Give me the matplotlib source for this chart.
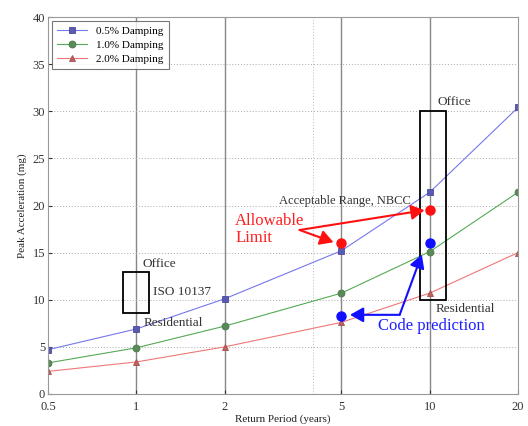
import matplotlib
matplotlib.use("Agg")
import matplotlib.pyplot as plt
from matplotlib.patches import Rectangle

periods = [0.5, 1, 2, 5, 10, 20]
damp_05 = [4.7, 6.9, 10.1, 15.2, 21.4, 30.4]
damp_10 = [3.3, 4.9, 7.2, 10.7, 15.1, 21.4]
damp_20 = [2.4, 3.4, 5.0, 7.6, 10.7, 15.0]
series_labels = ["0.5% Damping", "1.0% Damping", "2.0% Damping"]

allow_x = [5, 10]
allow_y = [16.0, 19.5]
code_x = [5, 10]
code_y = [8.3, 16.0]

xticks = [0.5, 1, 2, 5, 10, 20]
xtick_labels = ["0.5", "1", "2", "5", "10", "20"]
yticks = [0, 5, 10, 15, 20, 25, 30, 35, 40]

plt.rcParams['font.family'] = ['Liberation Serif', 'DejaVu Serif']

fig = plt.figure(figsize=(5.28, 4.26), dpi=100)
ax = fig.add_axes([48/528, 32/426, 470/528, 377/426])
ax.set_xscale('log')
ax.set_xlim(0.5, 20)
ax.set_ylim(0, 40)

# grid
for v in [1, 2, 5, 10]:
    ax.axvline(v, color='#888888', lw=1.0, zorder=0)
ax.axvline(4, color='#bbbbbb', lw=0.7, ls=(0, (1, 2)), zorder=0)
for v in yticks[1:-1]:
    ax.axhline(v, color='#aaaaaa', lw=0.7, ls=(0, (1, 2)), zorder=0)

ax.plot(periods, damp_05, '-s', color='#7777ee', lw=0.8, ms=4.5,
        mfc='#5a5ab4', mec='#4a4a9a', mew=0.6, label=series_labels[0])
ax.plot(periods, damp_10, '-o', color='#55aa55', lw=0.8, ms=5,
        mfc='#5a8a5a', mec='#4a7a4a', mew=0.6, label=series_labels[1])
ax.plot(periods, damp_20, '-^', color='#ee7777', lw=0.8, ms=5,
        mfc='#c06060', mec='#a05050', mew=0.6, label=series_labels[2])

ax.plot(allow_x, allow_y, 'o', color='#ff1010', ms=6.5, zorder=5)
ax.plot(code_x, code_y, 'o', color='#1010ff', ms=6.5, zorder=5)

# boxes
ax.add_patch(Rectangle((0.9, 8.6), 1.103 - 0.9, 12.9 - 8.6, fill=False,
                       ec='black', lw=1.3, zorder=4))
ax.add_patch(Rectangle((9.24, 10.0), 11.34 - 9.24, 20.0, fill=False,
                       ec='black', lw=1.3, zorder=4))

tcol = '#333333'
ax.text(1.05, 13.8, "Office", fontsize=9.5, color=tcol, va='center')
ax.text(1.14, 10.8, "ISO 10137", fontsize=9.5, color=tcol, va='center')
ax.text(1.06, 7.5, "Residential", fontsize=9.5, color=tcol, va='center')
ax.text(10.6, 31.0, "Office", fontsize=9.5, color=tcol, va='center')
ax.text(3.06, 20.5, "Acceptable Range, NBCC", fontsize=9, color=tcol, va='center')
ax.text(10.5, 9.0, "Residential", fontsize=9.5, color=tcol, va='center')

ax.text(2.17, 18.4, "Allowable", fontsize=12, color='#ff2020', va='center')
ax.text(2.17, 16.5, "Limit", fontsize=12, color='#ff2020', va='center')
ax.text(6.67, 7.2, "Code prediction", fontsize=12, color='#2020ff', va='center')

# red arrows
rkw = dict(arrowstyle='-|>,head_length=0.8,head_width=0.45', color='#ff1010', lw=1.5,
           shrinkA=0, shrinkB=0)
ax.annotate("", xy=(4.7, 16.1), xytext=(3.6, 17.4), arrowprops=rkw, zorder=6)
ax.annotate("", xy=(9.6, 19.5), xytext=(3.6, 17.4), arrowprops=rkw, zorder=6)

# blue arrows
bkw = dict(arrowstyle='-|>,head_length=0.8,head_width=0.45', color='#1010ff', lw=1.5,
           shrinkA=0, shrinkB=0)
ax.annotate("", xy=(5.35, 8.4), xytext=(7.9, 8.4), arrowprops=bkw, zorder=6)
ax.annotate("", xy=(9.4, 14.8), xytext=(7.9, 8.4), arrowprops=bkw, zorder=6)

ax.set_xticks(xticks)
ax.set_xticklabels(xtick_labels)
ax.xaxis.set_minor_locator(matplotlib.ticker.NullLocator())
ax.set_yticks(yticks)
ax.tick_params(labelsize=9, colors='#333333', length=3, direction='in', pad=2)
ax.tick_params(axis='x', pad=5)
for s in ax.spines.values():
    s.set_color('#999999')

ax.set_xlabel("Return Period (years)", fontsize=8, color='#222222', labelpad=1)
ax.set_ylabel("Peak Acceleration (mg)", fontsize=8, color='#222222', labelpad=4)

leg = ax.legend(loc='upper left', fontsize=8, frameon=True, fancybox=False,
                edgecolor='#555555', borderaxespad=0.4, handlelength=2.7,
                labelspacing=0.35, borderpad=0.45)
leg.get_frame().set_linewidth(0.8)

fig.savefig("out.png", dpi=100)
